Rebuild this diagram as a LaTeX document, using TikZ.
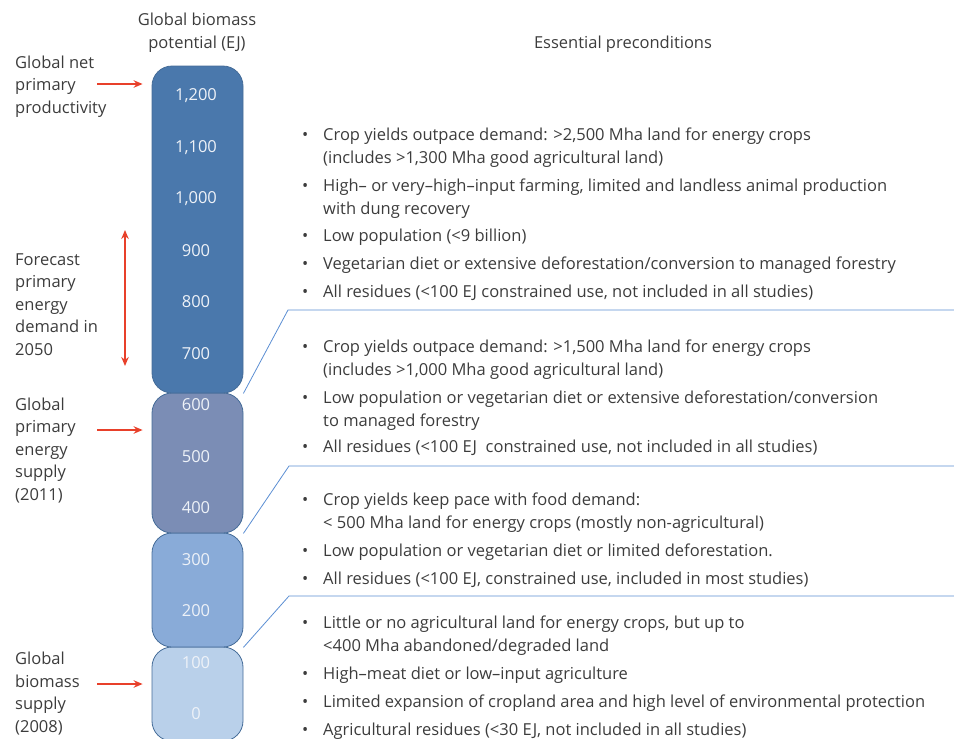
\documentclass[tikz,border=0pt]{standalone}
\usepackage{fontspec}
\setmainfont{Open Sans}
\usetikzlibrary{arrows.meta}
\definecolor{colTop}{HTML}{4A78AC}
\definecolor{colMid}{HTML}{7B8DB5}
\definecolor{colLow}{HTML}{89ABD8}
\definecolor{colBase}{HTML}{B9D0EA}
\definecolor{colEdge}{HTML}{456C98}
\definecolor{linkblue}{HTML}{5B8ED3}
\definecolor{arrowred}{HTML}{E8402A}
\definecolor{txtgrey}{HTML}{3C3C3C}
\definecolor{numwhite}{HTML}{EEF2F8}
\newcommand{\bul}{\makebox[21pt][l]{\textbullet}}
\newcommand{\ind}{\hspace*{21pt}}

\begin{document}
\begin{tikzpicture}[x=1pt, y=-1pt,
  colbox/.style={rectangle, rounded corners=20pt, draw=colEdge, thick, minimum width=91pt, inner sep=0pt},
  ejnum/.style={text=numwhite, font=\fontsize{16.5}{19}\selectfont},
  heading/.style={align=center, inner sep=0pt, text=txtgrey, font=\fontsize{16.5}{23}\selectfont},
  sidelabel/.style={anchor=west, align=left, inner sep=0pt, text=txtgrey, font=\fontsize{16.5}{22.5}\selectfont},
  precond/.style={anchor=west, align=left, inner sep=0pt, text=txtgrey, font=\fontsize{16.5}{23}\selectfont},
  link/.style={draw=linkblue, thick},
  redarrow/.style={draw=arrowred, line width=1.4pt, -{Stealth[length=9pt, width=7.5pt]}},
  ]
\useasboundingbox (0,0) rectangle (954,739);

\node[colbox, fill=colBase, minimum height=94pt] (colBase) at (197.5,694) {};
\node[colbox, fill=colLow, minimum height=114pt] (colLow) at (197.5,590) {};
\node[colbox, fill=colMid, minimum height=140pt] (colMid) at (197.5,463) {};
\node[colbox, fill=colTop, minimum height=327pt] (colTop) at (197.5,229.5) {};

\foreach \v/\lbl in {1200/{1,200}, 1100/{1,100}, 1000/{1,000}, 900/900, 800/800, 700/700,
                     600/600, 500/500, 400/400, 300/300, 200/200, 100/100, 0/0}
  \node[ejnum] (ej\v) at (196, {714-0.515*\v}) {\lbl};

\node[heading] (hpot) at (197,32.5) {Global biomass\\potential (EJ)};
\node[heading] (hpre) at (623,44) {Essential preconditions};

\node[sidelabel] (npp) at (15,86.5) {Global net\\primary\\productivity};
\node[sidelabel] (fcst) at (15,304.5) {Forecast\\primary\\energy\\demand in\\2050};
\node[sidelabel] (gpes) at (15,450.5) {Global\\primary\\energy\\supply\\(2011)};
\node[sidelabel] (gbs) at (15,693.5) {Global\\biomass\\supply\\(2008)};

\coordinate (nppTail) at (97,84);
\coordinate (gpesTail) at (97,430);
\coordinate (gbsTail) at (97,684);
\coordinate (fcTop) at (125,230);
\coordinate (fcBot) at (125,366);
\draw[redarrow, shorten >=9pt] (nppTail) -- (nppTail -| colTop.west);
\draw[redarrow, shorten >=9pt] (gpesTail) -- (gpesTail -| colMid.west);
\draw[redarrow, shorten >=9pt] (gbsTail) -- (gbsTail -| colBase.west);
\draw[redarrow, {Stealth[length=9pt, width=7.5pt]}-{Stealth[length=9pt, width=7.5pt]}] (fcTop) -- (fcBot);

\node[precond] (p1a) at (302,147.5) {\bul Crop yields outpace demand: >2,500 Mha land for energy crops\\\ind(includes >1,300 Mha good agricultural land)};
\node[precond] (p1b) at (302,198.5) {\bul High– or very–high–input farming, limited and landless animal production\\\ind with dung recovery};
\node[precond] (p1c) at (302,237) {\bul Low population (<9 billion)};
\node[precond] (p1d) at (302,265) {\bul Vegetarian diet or extensive deforestation/conversion to managed forestry};
\node[precond] (p1e) at (302,293) {\bul All residues (<100 EJ constrained use, not included in all studies)};

\node[precond] (p2a) at (302,360) {\bul Crop yields outpace demand: >1,500 Mha land for energy crops\\\ind(includes >1,000 Mha good agricultural land)};
\node[precond] (p2b) at (302,410.5) {\bul Low population or vegetarian diet or extensive deforestation/conversion\\\ind to managed forestry};
\node[precond] (p2c) at (302,448) {\bul All residues (<100 EJ\ \ constrained use, not included in all studies)};

\node[precond] (p3a) at (302,512.5) {\bul Crop yields keep pace with food demand:\\\ind< 500 Mha land for energy crops (mostly non-agricultural)};
\node[precond] (p3b) at (302,552) {\bul Low population or vegetarian diet or limited deforestation.};
\node[precond] (p3c) at (302,580) {\bul All residues (<100 EJ, constrained use, included in most studies)};

\node[precond] (p4a) at (302,635.5) {\bul Little or no agricultural land for energy crops, but up to\\\ind<400 Mha abandoned/degraded land};
\node[precond] (p4b) at (302,675) {\bul High–meat diet or low–input agriculture};
\node[precond] (p4c) at (302,703) {\bul Limited expansion of cropland area and high level of environmental protection};
\node[precond] (p4d) at (302,731) {\bul Agricultural residues (<30 EJ, not included in all studies)};

\coordinate (k1) at (288,310);
\coordinate (k1end) at (954,310);
\coordinate (k2) at (289,466);
\coordinate (k2end) at (954,466);
\coordinate (k3) at (289,596);
\coordinate (k3end) at (954,596);
\draw[link] (colTop.south east) -- (k1) -- (k1end);
\draw[link] (colMid.south east) -- (k2) -- (k2end);
\draw[link] (colLow.south east) -- (k3) -- (k3end);

\end{tikzpicture}
\end{document}
